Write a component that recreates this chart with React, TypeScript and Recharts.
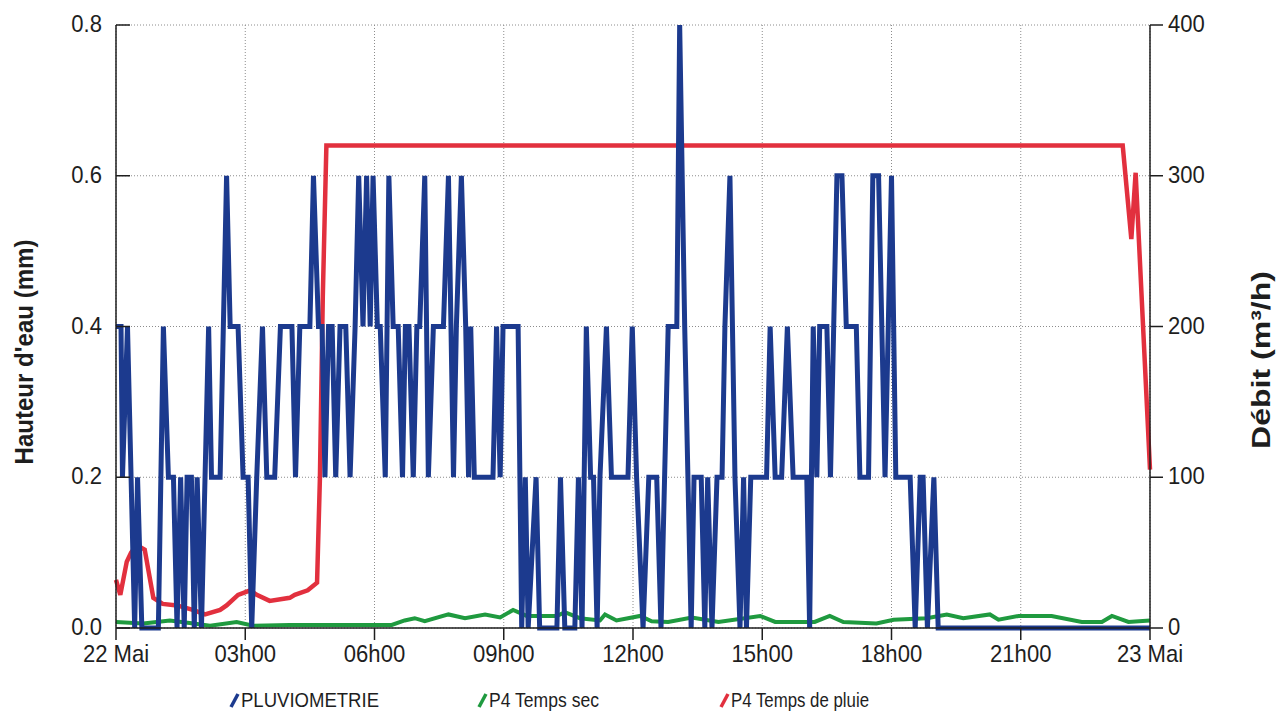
import { CartesianGrid, Line, LineChart, XAxis, YAxis } from "recharts";

const hourTicks = [0, 180, 360, 540, 720, 900, 1080, 1260, 1440];
const hourLabels = ["22 Mai", "03h00", "06h00", "09h00", "12h00", "15h00", "18h00", "21h00", "23 Mai"];
const heightTicks = [0, 0.2, 0.4, 0.6, 0.8];
const flowTicks = [0, 100, 200, 300, 400];

// [minutes depuis 22 Mai 00h00, valeur]
const pluviometrie: [number, number][] = [
  [0, 0.4], [7, 0.4], [9, 0.2], [16, 0.4], [26, 0], [30, 0.2], [36, 0], [59, 0], [66, 0.4], [73, 0.2],
  [80, 0.2], [85, 0], [90, 0.2], [95, 0], [99, 0.2], [105, 0.2], [109, 0], [113, 0.2], [119, 0], [129, 0.4],
  [133, 0.2], [145, 0.2], [154, 0.6], [159, 0.4], [170, 0.4], [177, 0.2], [184, 0.2], [189, 0], [196, 0.2], [204, 0.4],
  [210, 0.2], [221, 0.2], [229, 0.4], [245, 0.4], [250, 0.2], [256, 0.4], [270, 0.4], [275, 0.6], [282, 0.4], [287, 0.4],
  [291, 0.2], [296, 0.4], [301, 0.4], [306, 0.2], [312, 0.4], [320, 0.4], [326, 0.2], [333, 0.4], [338, 0.6], [344, 0.4],
  [349, 0.6], [354, 0.4], [358, 0.6], [364, 0.4], [368, 0.4], [375, 0.2], [380, 0.6], [386, 0.4], [393, 0.4], [399, 0.2],
  [403, 0.4], [408, 0.4], [414, 0.2], [419, 0.4], [423, 0.4], [430, 0.6], [435, 0.2], [442, 0.4], [456, 0.4], [463, 0.6],
  [470, 0.2], [474, 0.4], [481, 0.6], [487, 0.4], [491, 0.2], [494, 0.4], [499, 0.2], [525, 0.2], [530, 0.4], [535, 0.2],
  [539, 0.4], [560, 0.4], [565, 0], [570, 0.2], [574, 0], [585, 0.2], [590, 0], [614, 0], [619, 0.2], [625, 0],
  [639, 0], [644, 0.2], [649, 0], [655, 0.4], [661, 0.2], [665, 0.2], [670, 0], [674, 0.2], [683, 0.4], [690, 0.2],
  [713, 0.2], [719, 0.4], [725, 0.2], [734, 0], [742, 0.2], [753, 0.2], [759, 0], [769, 0.4], [781, 0.4], [785, 0.8],
  [792, 0.4], [801, 0], [805, 0.2], [815, 0.2], [820, 0], [824, 0.2], [830, 0], [837, 0.2], [844, 0.2], [848, 0.4],
  [855, 0.6], [862, 0.2], [869, 0], [874, 0.2], [878, 0], [884, 0.2], [906, 0.2], [911, 0.4], [918, 0.2], [927, 0.2],
  [935, 0.4], [943, 0.2], [962, 0.2], [966, 0], [971, 0.4], [976, 0.2], [980, 0.4], [990, 0.4], [995, 0.2], [1004, 0.6],
  [1011, 0.6], [1017, 0.4], [1031, 0.4], [1036, 0.2], [1048, 0.2], [1054, 0.6], [1062, 0.6], [1071, 0.2], [1080, 0.6], [1086, 0.2],
  [1106, 0.2], [1113, 0], [1120, 0.2], [1124, 0.2], [1130, 0], [1139, 0.2], [1145, 0], [1440, 0],
];

const tempsSec: [number, number][] = [
  [0, 4], [38, 3], [75, 5], [108, 3], [131, 1.5], [168, 4], [191, 1.5], [242, 2], [310, 2], [384, 2],
  [402, 5], [416, 6.5], [430, 4.5], [463, 9], [486, 6.5], [514, 9], [535, 7], [553, 12], [572, 8], [614, 8],
  [625, 10.5], [646, 6.5], [674, 5], [681, 9], [697, 5], [730, 8], [746, 4.5], [769, 4], [802, 7], [839, 4],
  [897, 8], [918, 4], [973, 4], [994, 8], [1013, 4], [1059, 3], [1083, 5.5], [1129, 6.5], [1157, 9], [1180, 6.5],
  [1217, 9], [1229, 5.5], [1257, 8], [1303, 8], [1345, 4], [1373, 4], [1387, 8], [1410, 4], [1440, 5],
];

const tempsPluie: [number, number][] = [
  [0, 32], [6, 22], [15, 44], [21, 50], [29, 55], [40, 52], [52, 20], [65, 16], [85, 15], [107, 12],
  [124, 9], [145, 12], [154, 15], [170, 22], [187, 25], [196, 22], [214, 18], [242, 20], [249, 22], [267, 25],
  [280, 30], [284, 100], [288, 220], [293, 320], [1402, 320], [1414, 258], [1420, 302], [1440, 105],
];

const toRows = (pts: [number, number][]) => pts.map(([t, v]) => ({ t, v }));

const FONT = '"Liberation Sans", Arial, Helvetica, sans-serif';
const INK = "#1e1e1e";

function LeftTick({ x, y, payload }: any) {
  return (
    <g>
      <line x1={x + 14} x2={x + 28} y1={y} y2={y} stroke={INK} strokeWidth={1.5} />
      <text transform={`translate(${x},${y + 7}) scale(0.92,1)`} textAnchor="end" fontSize={24} fill={INK} fontFamily={FONT}>
        {Number(payload.value).toFixed(1)}
      </text>
    </g>
  );
}

function RightTick({ x, y, payload }: any) {
  return (
    <text transform={`translate(${x},${y + 7}) scale(0.92,1)`} textAnchor="start" fontSize={24} fill={INK} fontFamily={FONT}>
      {payload.value}
    </text>
  );
}

function BottomTick({ x, y, payload }: any) {
  const label = hourLabels[hourTicks.indexOf(payload.value)];
  return (
    <text transform={`translate(${x},${y + 20}) scale(0.92,1)`} textAnchor="middle" fontSize={24} fill={INK} fontFamily={FONT}>
      {label}
    </text>
  );
}

const legendItems = [
  { name: "PLUVIOMETRIE", color: "#1c3a8e", x: 231, width: 138 },
  { name: "P4 Temps sec", color: "#1f9a3f", x: 479, width: 110 },
  { name: "P4 Temps de pluie", color: "#e2303e", x: 721, width: 138 },
];

export default function App() {
  return (
    <div style={{ position: "absolute", left: 0, top: 0, width: 1282, height: 713, background: "#fff" }}>
      <LineChart width={1282} height={713} margin={{ top: 25, right: 0, bottom: 45, left: 0 }}>
        <CartesianGrid yAxisId="left" stroke="#8c8c8c" strokeDasharray="1 2" />
        <XAxis
          dataKey="t"
          type="number"
          domain={[0, 1440]}
          ticks={hourTicks}
          interval={0}
          height={40}
          tickSize={12}
          tickMargin={2}
          axisLine={{ stroke: INK, strokeWidth: 1.5 }}
          tickLine={{ stroke: INK, strokeWidth: 1.5 }}
          tick={<BottomTick />}
        />
        <YAxis
          yAxisId="left"
          domain={[0, 0.8]}
          ticks={heightTicks}
          width={116}
          tickSize={0}
          tickMargin={14}
          tickLine={false}
          axisLine={{ stroke: INK, strokeWidth: 1.5 }}
          tick={<LeftTick />}
        />
        <YAxis
          yAxisId="right"
          orientation="right"
          domain={[0, 400]}
          ticks={flowTicks}
          width={132}
          tickSize={13}
          tickMargin={5}
          axisLine={{ stroke: INK, strokeWidth: 1.5 }}
          tickLine={{ stroke: INK, strokeWidth: 1.5 }}
          tick={<RightTick />}
        />
        <Line yAxisId="right" data={toRows(tempsSec)} dataKey="v" type="linear" stroke="#1f9a3f" strokeWidth={4} dot={false} isAnimationActive={false} />
        <Line yAxisId="right" data={toRows(tempsPluie)} dataKey="v" type="linear" stroke="#e2303e" strokeWidth={4.5} dot={false} isAnimationActive={false} />
        <Line yAxisId="left" data={toRows(pluviometrie)} dataKey="v" type="linear" stroke="#1c3a8e" strokeWidth={5} dot={false} isAnimationActive={false} />
      </LineChart>

      <svg width={1282} height={713} style={{ position: "absolute", left: 0, top: 0, pointerEvents: "none" }}>
        <text
          transform="translate(33,352) rotate(-90)"
          textAnchor="middle"
          fontSize={25}
          fontWeight="bold"
          fill={INK}
          fontFamily={FONT}
          textLength={225}
          lengthAdjust="spacingAndGlyphs"
        >
          Hauteur d'eau  (mm)
        </text>
        <text
          transform="translate(1270,360) rotate(-90)"
          textAnchor="middle"
          fontSize={25}
          fontWeight="bold"
          fill={INK}
          fontFamily={FONT}
          textLength={178}
          lengthAdjust="spacingAndGlyphs"
        >
          Débit  (m³/h)
        </text>
        {legendItems.map((item) => (
          <g key={item.name}>
            <line x1={item.x} y1={707} x2={item.x + 7} y2={694} stroke={item.color} strokeWidth={3.5} />
            <text
              x={item.x + 10}
              y={707}
              fontSize={20}
              fill={INK}
              fontFamily={FONT}
              textLength={item.width}
              lengthAdjust="spacingAndGlyphs"
            >
              {item.name}
            </text>
          </g>
        ))}
      </svg>
    </div>
  );
}
